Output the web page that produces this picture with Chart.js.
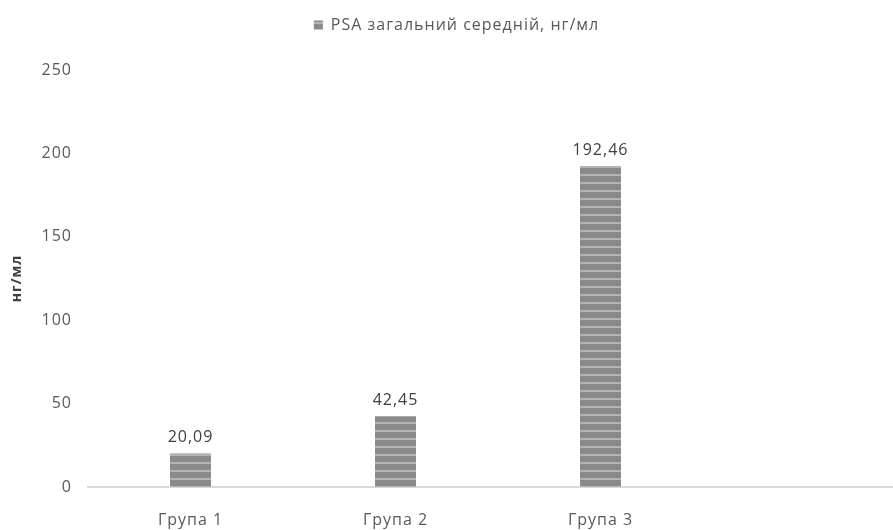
<!DOCTYPE html>
<html>
<head>
<meta charset="utf-8">
<script src="https://cdn.jsdelivr.net/npm/chart.js@4.4.0/dist/chart.umd.min.js"></script>
<style>
  html, body { margin: 0; padding: 0; background: #fff; overflow: hidden; }
  #wrap { width: 910px; height: 530px; }
</style>
</head>
<body>
<div id="wrap"><canvas id="psaChart"></canvas></div>
<script>
// Data
var categories = ["Група 1", "Група 2", "Група 3", ""];
var psaValues = [20.09, 42.45, 192.46, null];
var seriesLabel = "PSA загальний середній, нг/мл";
var yTitle = "нг/мл";

var FONT = "'Open Sans', sans-serif";

// Horizontal striped fill like the original
function stripePattern() {
  var c = document.createElement("canvas");
  c.width = 8; c.height = 8;
  var g = c.getContext("2d");
  g.fillStyle = "#8a8a8a";
  g.fillRect(0, 0, 8, 8);
  g.fillStyle = "#b3b3b3";
  g.fillRect(0, 6, 8, 2);
  return g.createPattern(c, "repeat");
}

// Value labels above bars, comma decimal
var valueLabels = {
  id: "valueLabels",
  afterDatasetsDraw: function(chart) {
    var ctx = chart.ctx;
    var meta = chart.getDatasetMeta(0);
    ctx.save();
    ctx.font = "16px " + FONT;
    ctx.fillStyle = "#404040";
    ctx.textAlign = "center";
    ctx.textBaseline = "alphabetic";
    meta.data.forEach(function(bar, i) {
      var v = psaValues[i];
      if (v == null) return;
      ctx.fillText(v.toFixed(2).replace(".", ","), bar.x, bar.y - 11);
    });
    ctx.restore();
  }
};

// Wide letter spacing as in the original, and extra room under the legend
var spacing = {
  id: "spacing",
  beforeInit: function(chart) {
    var fit = chart.legend.fit;
    chart.legend.fit = function() {
      fit.call(this);
      this.height += 27;
    };
  },
  beforeLayout: function(chart) { chart.ctx.letterSpacing = "1px"; },
  beforeDraw: function(chart) { chart.ctx.letterSpacing = "1px"; }
};

var ctx = document.getElementById("psaChart").getContext("2d");
var psaChart = new Chart(ctx, {
  type: "bar",
  data: {
    labels: categories,
    datasets: [{
      label: seriesLabel,
      data: psaValues,
      backgroundColor: stripePattern(),
      borderWidth: 0,
      categoryPercentage: 1.0,
      barPercentage: 0.2
    }]
  },
  options: {
    responsive: true,
    maintainAspectRatio: false,
    animation: false,
    layout: { padding: { top: 9, right: 2, left: 5, bottom: 0 } },
    plugins: {
      legend: {
        position: "top",
        labels: {
          boxWidth: 9,
          boxHeight: 9,
          padding: 8,
          color: "#595959",
          font: { family: FONT, size: 16 }
        }
      },
      tooltip: { enabled: false }
    },
    scales: {
      x: {
        grid: { display: false, drawTicks: false },
        border: { display: true, color: "#d9d9d9", width: 2 },
        ticks: {
          color: "#595959",
          padding: 24,
          font: { family: FONT, size: 16 }
        },
        afterFit: function(scale) { scale.height = 43; }
      },
      y: {
        min: 0,
        max: 250,
        grid: { display: false, drawTicks: false },
        border: { display: false },
        ticks: {
          stepSize: 50,
          color: "#595959",
          padding: 16,
          font: { family: FONT, size: 16 }
        },
        title: {
          display: true,
          text: yTitle,
          color: "#404040",
          padding: 4,
          font: { family: FONT, size: 14, weight: "bold" }
        },
        afterFit: function(scale) { scale.width = 83; }
      }
    }
  },
  plugins: [valueLabels, spacing]
});
</script>
</body>
</html>
